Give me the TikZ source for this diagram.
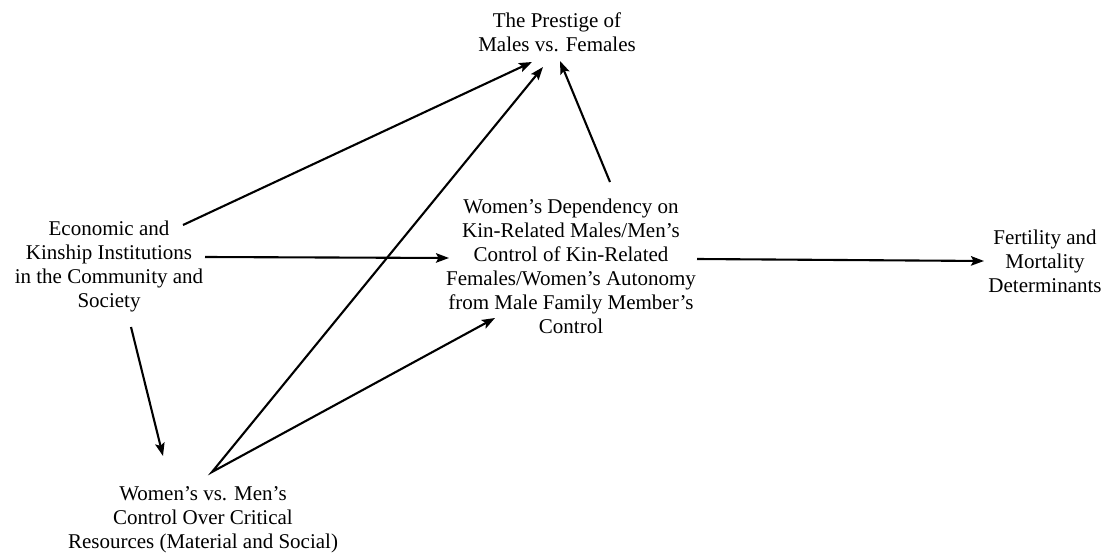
\documentclass[tikz,border=0pt]{standalone}
\usepackage{fontspec}
\setmainfont{Liberation Serif}
\usetikzlibrary{arrows.meta}
\begin{document}
\begin{tikzpicture}[x=1pt,y=-1pt,
  label/.style={align=center,inner sep=0pt,font=\fontsize{21}{24}\selectfont},
  link/.style={line width=2.1pt,-{Stealth[length=13pt,width=9.5pt,inset=2.5pt]}}]
\useasboundingbox (0,0) rectangle (1109,556);

% concept blocks
\node[label] (prest) at (557,32.5) {The Prestige of\\Males vs. Females};
\node[label] (econ)  at (109,266.5) {Economic and\\Kinship Institutions\\in the Community and\\Society};
\node[label] (dep)   at (571,266) {Women's Dependency on\\Kin-Related Males/Men's\\Control of Kin-Related\\Females/Women's Autonomy\\from Male Family Member's\\Control};
\node[label] (fert)  at (1045,261) {Fertility and\\Mortality\\Determinants};
\node[label] (res)   at (203,520) {Women's vs. Men's\\Control Over Critical\\Resources (Material and Social)};

% connector ends
\coordinate (econ-a) at (183,225);
\coordinate (econ-b) at (205,257);
\coordinate (econ-c) at (131,327);
\coordinate (prest-a) at (532,62);
\coordinate (prest-b) at (543,67);
\coordinate (prest-c) at (560,61);
\coordinate (dep-in) at (449,258);
\coordinate (dep-in2) at (495,318);
\coordinate (dep-top) at (610,182);
\coordinate (dep-out) at (697,259);
\coordinate (fert-in) at (984,261);
\coordinate (res-in) at (163,456);
\coordinate (res-tip) at (212,472);

% causal links
\draw[link] (econ-a) -- (prest-a);
\draw[link] (econ-b) -- (dep-in);
\draw[link] (econ-c) -- (res-in);
\draw[link,{Stealth[length=13pt,width=9.5pt,inset=2.5pt]}-{Stealth[length=13pt,width=9.5pt,inset=2.5pt]},line join=miter] (prest-b) -- (res-tip) -- (dep-in2);
\draw[link] (dep-top) -- (prest-c);
\draw[link] (dep-out) -- (fert-in);
\end{tikzpicture}
\end{document}
